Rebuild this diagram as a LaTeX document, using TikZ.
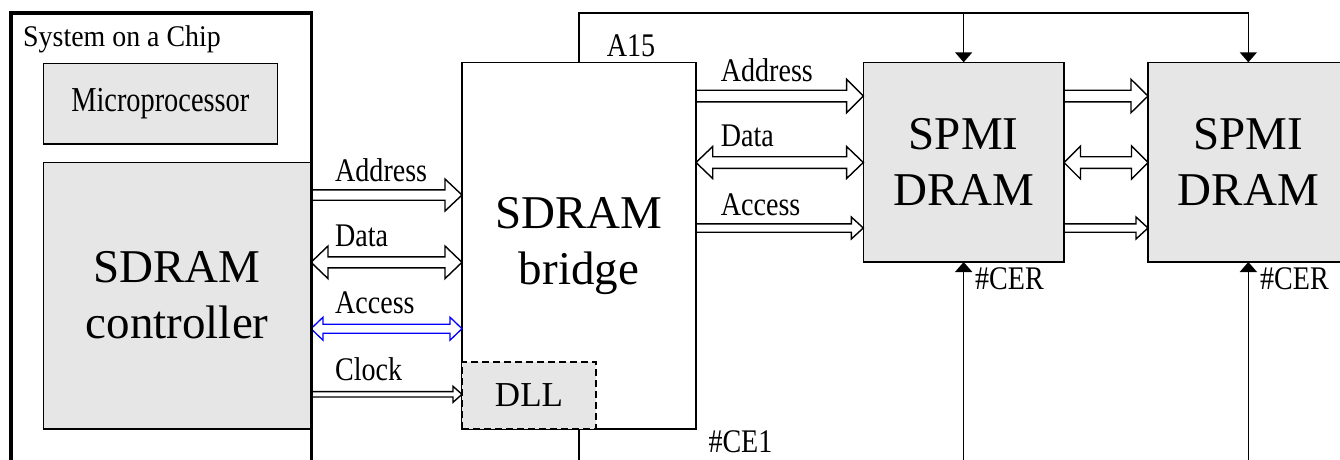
\documentclass[tikz,border=0pt]{standalone}
\usepackage{fontspec}
\setmainfont{Liberation Serif}
\usetikzlibrary{arrows.meta,calc}
\definecolor{boxgray}{RGB}{230,230,230}
\definecolor{busblue}{RGB}{0,0,255}
\newcommand\sq[3]{\scalebox{#1}[1]{\fontsize{#2pt}{#2pt}\selectfont #3}}
% single-headed bus arrow: style, from node, to node, y, shaft half, head half, head length
\newcommand\busR[7]{%
  \draw[#1] let \p1=(#2.east), \p2=(#3.west) in
    (\x1,{-(#4-#5)*1pt}) -- (\x2-#7pt,{-(#4-#5)*1pt}) -- (\x2-#7pt,{-(#4-#6)*1pt})
    -- (\x2,{-#4*1pt}) -- (\x2-#7pt,{-(#4+#6)*1pt}) -- (\x2-#7pt,{-(#4+#5)*1pt})
    -- (\x1,{-(#4+#5)*1pt});}
% double-headed bus arrow
\newcommand\busD[7]{%
  \draw[#1] let \p1=(#2.east), \p2=(#3.west) in
    (\x1+#7pt,{-(#4-#5)*1pt}) -- (\x2-#7pt,{-(#4-#5)*1pt}) -- (\x2-#7pt,{-(#4-#6)*1pt})
    -- (\x2,{-#4*1pt}) -- (\x2-#7pt,{-(#4+#6)*1pt}) -- (\x2-#7pt,{-(#4+#5)*1pt})
    -- (\x1+#7pt,{-(#4+#5)*1pt}) -- (\x1+#7pt,{-(#4+#6)*1pt}) -- (\x1,{-#4*1pt})
    -- (\x1+#7pt,{-(#4-#6)*1pt}) -- cycle;}
\begin{document}
\begin{tikzpicture}[x=1pt,y=-1pt,
  blk/.style={draw=black, line width=1.6pt, fill=boxgray, inner sep=0pt, outer sep=0pt, anchor=north west},
  wblk/.style={blk, fill=white},
  big/.style={font=\fontsize{47pt}{56pt}\selectfont, align=center},
  bus/.style={draw=black, line width=1.4pt, line join=miter},
  bluebus/.style={bus, draw=busblue, line width=1.3pt},
  sig/.style={draw=black, line width=1.6pt},
  sigar/.style={sig, -{Triangle[length=10pt,width=17pt]}},
  lbl/.style={inner sep=0pt, anchor=base west}]
\useasboundingbox (0,0) rectangle (1340,459);
\clip (0,0) rectangle (1340,459);

% blocks
\node[blk, minimum width=234pt, minimum height=80.7pt] (mp) at (43.3,63.3) {\sq{0.81}{35}{Microprocessor}};
\node[blk, minimum width=267.7pt, minimum height=266.4pt, big] (ctrl) at (43.3,162.3) {SDRAM\\controller};
\node[wblk, minimum width=234pt, minimum height=366.7pt, big] (bridge) at (462,62.3) {SDRAM\\bridge};
\node[blk, draw=none, minimum width=134pt, minimum height=67.3pt] (dllbg) at (462,361.7) {};
\node[blk, fill=none, dash pattern=on 7pt off 4pt, minimum width=134pt, minimum height=67.3pt, font=\fontsize{35pt}{35pt}\selectfont] (dll) at (462,361.7) {DLL};
\node[blk, minimum width=200.7pt, minimum height=199.7pt, big] (sp1) at (863.3,62.3) {SPMI\\DRAM};
\node[blk, minimum width=200.7pt, minimum height=199.7pt, big] (sp2) at (1148,62.3) {SPMI\\DRAM};

% buses controller -> bridge
\busR{bus}{ctrl}{bridge}{195}{5.2}{16}{17}
\busD{bus}{ctrl}{bridge}{262.3}{5.5}{16.3}{17}
\busD{bluebus}{ctrl}{bridge}{328.7}{4.5}{11.5}{12}
\busR{bus}{ctrl}{dll}{394.3}{2.7}{8}{9}
% buses bridge -> SPMI 1
\busR{bus}{bridge}{sp1}{96}{5.8}{16.7}{16.7}
\busD{bus}{bridge}{sp1}{162.5}{5.8}{16}{16.7}
\busR{bus}{bridge}{sp1}{228}{4.2}{11}{12}
% buses SPMI 1 -> SPMI 2
\busR{bus}{sp1}{sp2}{96}{5.8}{16.7}{17}
\busD{bus}{sp1}{sp2}{162.5}{5.8}{16.5}{16.5}
\busR{bus}{sp1}{sp2}{228}{4.2}{11}{12}

% control lines
\coordinate (topy) at (0,12.7);
\coordinate (boty) at (0,480);
\draw[sigar] (bridge.north) -- (bridge.north |- topy) -- (sp2.north |- topy) -- (sp2.north);
\draw[sigar] (sp1.north |- topy) -- (sp1.north);
\draw[sigar] (sp1.south |- boty) -- (sp1.south);
\draw[sigar] (sp2.south |- boty) -- (sp2.south);
\draw[sig] (bridge.south) -- (bridge.south |- boty);

% system on a chip frame
\node[draw=black, line width=3.5pt, inner sep=0pt, outer sep=0pt, anchor=north west,
      minimum width=300.3pt, minimum height=520pt] (soc) at (11,12.8) {};

% labels
\node[lbl] (lsoc) at (23,46) {\sq{0.93}{30}{System on a Chip}};
\node[lbl] (la1) at (335,181.7) {\sq{0.85}{33}{Address}};
\node[lbl] (ld1) at (335,246.7) {\sq{0.85}{33}{Data}};
\node[lbl] (lc1) at (335,313.3) {\sq{0.85}{33}{Access}};
\node[lbl] (lk1) at (335,380) {\sq{0.85}{33}{Clock}};
\node[lbl] (la2) at (720.7,81.7) {\sq{0.85}{33}{Address}};
\node[lbl] (ld2) at (720.7,146.7) {\sq{0.85}{33}{Data}};
\node[lbl] (lc2) at (720.7,215) {\sq{0.85}{33}{Access}};
\node[lbl] (la15) at (606.7,56.7) {\sq{0.85}{33}{A15}};
\node[lbl] (lce1) at (708.3,452) {\sq{0.85}{33}{\#CE1}};
\node[lbl] (lcer1) at (975,289) {\sq{0.85}{33}{\#CER}};
\node[lbl] (lcer2) at (1260,289) {\sq{0.85}{33}{\#CER}};
\end{tikzpicture}
\end{document}
